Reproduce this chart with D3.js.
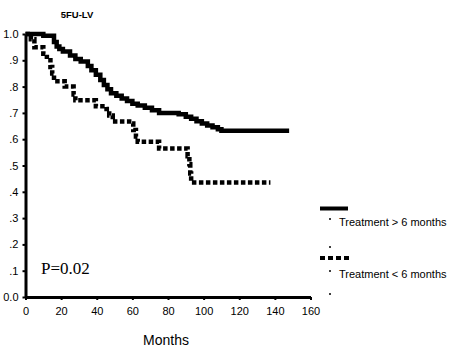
<!DOCTYPE html>
<html>
<head>
<meta charset="utf-8">
<script src="https://cdn.jsdelivr.net/npm/d3@7"></script>
<style>
  body { margin: 0; background: #fff; }
  text { font-family: "Liberation Sans", Arial, sans-serif; fill: #000; }
</style>
</head>
<body>
<div id="chart"></div>
<script>
// survival curves as [month, proportion surviving] steps
let gt6Months = [0, 10, 16, 17.5, 19, 21, 25, 28, 31, 35, 37, 39.5, 42, 44, 46, 48, 51, 54, 57, 60, 63, 67, 71, 75, 86, 90, 93, 96, 99, 102, 105, 108, 110, 148];
let gt6Surv   = [1.0, 0.993, 0.97, 0.952, 0.943, 0.933, 0.918, 0.905, 0.895, 0.878, 0.862, 0.845, 0.825, 0.806, 0.79, 0.775, 0.765, 0.755, 0.745, 0.735, 0.728, 0.72, 0.71, 0.70, 0.695, 0.685, 0.678, 0.668, 0.66, 0.652, 0.645, 0.638, 0.632, 0.632];

let lt6Months = [0, 3, 5, 10, 12, 14, 15, 16, 22, 27, 28, 39.5, 45.5, 47, 49, 59.5, 60.5, 62, 63, 75, 91, 92, 92.5, 93, 137.5];
let lt6Surv   = [1.0, 0.98, 0.95, 0.925, 0.9, 0.875, 0.85, 0.82, 0.80, 0.77, 0.748, 0.725, 0.715, 0.69, 0.667, 0.66, 0.635, 0.61, 0.59, 0.565, 0.535, 0.505, 0.47, 0.435, 0.435];

let xTicks = [0, 20, 40, 60, 80, 100, 120, 140, 160];
let yTicks = [0, 0.1, 0.2, 0.3, 0.4, 0.5, 0.6, 0.7, 0.8, 0.9, 1.0];
let yTickLabels = ['0.0', '.1', '.2', '.3', '.4', '.5', '.6', '.7', '.8', '.9', '1.0'];

let legendLabels = ['Treatment > 6 months', 'Treatment < 6 months'];

let margin = { left: 25.5, top: 34, right: 147, bottom: 53 };
let width = 457 - margin.left - margin.right;
let height = 350 - margin.top - margin.bottom;

let svg = d3.select('#chart').append('svg')
    .attr('width', 457)
    .attr('height', 350)

let g = svg.append('g')
    .attr('transform', 'translate(' + margin.left + ',' + margin.top + ')')

let x = d3.scaleLinear().domain([0, 160]).range([0, 285]);
let y = d3.scaleLinear().domain([0, 1]).range([height, 0]);

// axes
let xAxis = d3.axisBottom(x)
    .tickValues(xTicks)
    .tickSize(3)
    .tickSizeOuter(0)
    .tickPadding(7);
let xg = g.append('g')
    .attr('class', 'x axis')
    .attr('transform', 'translate(0,' + height + ')')
    .call(xAxis)
xg.select('.domain').attr('stroke-width', 3)
xg.selectAll('.tick line').attr('stroke-width', 2)
xg.selectAll('text').attr('font-size', '11px')

let yAxis = d3.axisLeft(y)
    .tickValues(yTicks)
    .tickSize(3)
    .tickSizeOuter(0)
    .tickPadding(4)
    .tickFormat(function (d, i) { return yTickLabels[i]; });
let yg = g.append('g')
    .attr('class', 'y axis')
    .call(yAxis)
yg.select('.domain').attr('stroke-width', 3)
yg.selectAll('.tick line').attr('stroke-width', 2)
yg.selectAll('text').attr('font-size', '11px')

// curves
let line = d3.line()
    .x(function (d) { return x(d[0]); })
    .y(function (d) { return y(d[1]); })
    .curve(d3.curveStepAfter);

g.append('path')
    .datum(d3.zip(gt6Months, gt6Surv))
    .attr('d', line)
    .attr('fill', 'none')
    .attr('stroke', '#000')
    .attr('stroke-width', 4.5)

g.append('path')
    .datum(d3.zip(lt6Months, lt6Surv))
    .attr('d', line)
    .attr('fill', 'none')
    .attr('stroke', '#000')
    .attr('stroke-width', 4.5)
    .attr('stroke-dasharray', '4.5,2.5')

// title, labels
svg.append('text')
    .attr('x', 77)
    .attr('y', 18)
    .attr('text-anchor', 'middle')
    .attr('font-size', '9.5px')
    .attr('font-weight', 'bold')
    .text('5FU-LV')

svg.append('text')
    .attr('x', 166)
    .attr('y', 345)
    .attr('text-anchor', 'middle')
    .attr('font-size', '14px')
    .text('Months')

svg.append('text')
    .attr('x', 41)
    .attr('y', 274)
    .attr('font-size', '17px')
    .style('font-family', '"Liberation Serif", "Times New Roman", serif')
    .text('P=0.02')

// legend
let legend = svg.append('g')
legend.append('line')
    .attr('x1', 320).attr('x2', 348)
    .attr('y1', 208.5).attr('y2', 208.5)
    .attr('stroke', '#000')
    .attr('stroke-width', 4)
legend.append('line')
    .attr('x1', 320).attr('x2', 349)
    .attr('y1', 258).attr('y2', 258)
    .attr('stroke', '#000')
    .attr('stroke-width', 4)
    .attr('stroke-dasharray', '5,3')

legend.selectAll('.lbl')
    .data(legendLabels)
    .enter()
    .append('text')
    .attr('class', 'lbl')
    .attr('x', 339)
    .attr('y', function (d, i) { return 226 + i * 52; })
    .attr('font-size', '11px')
    .text(function (d) { return d; })

// small dash marks beside legend
legend.selectAll('.dash')
    .data([219, 247, 271, 294])
    .enter()
    .append('rect')
    .attr('class', 'dash')
    .attr('x', 329)
    .attr('y', function (d) { return d - 0.75; })
    .attr('width', 2)
    .attr('height', 1.5)
    .attr('fill', '#000')
</script>
</body>
</html>
